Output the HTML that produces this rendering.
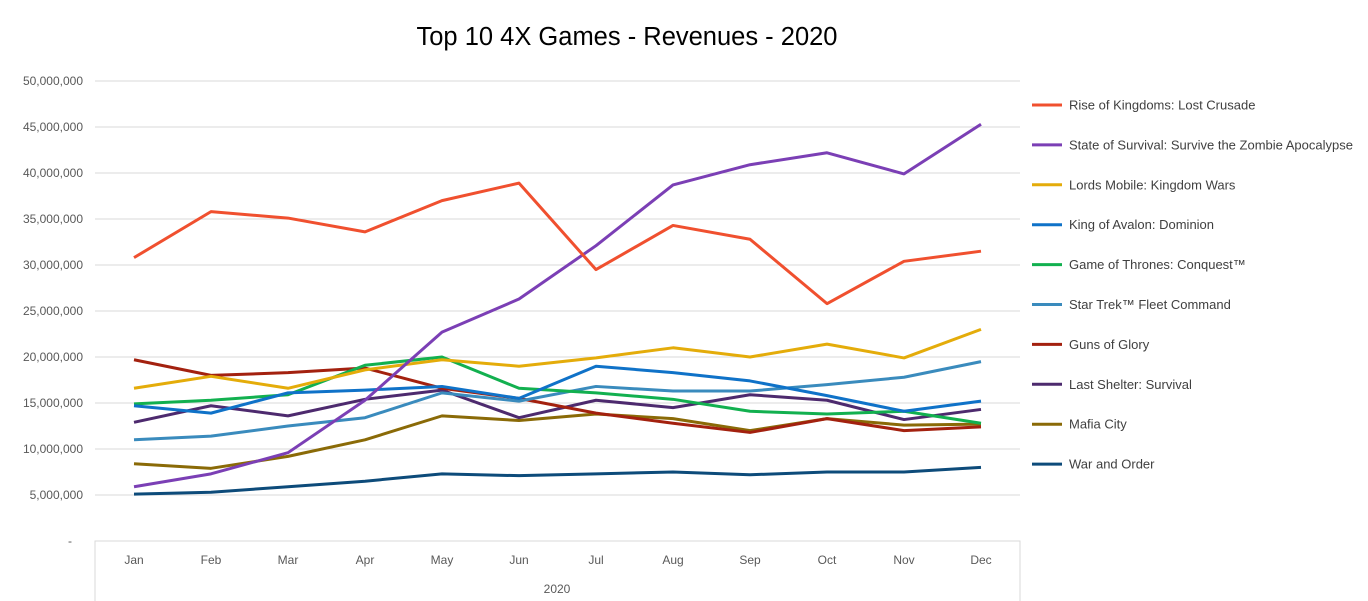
<!DOCTYPE html>
<html><head><meta charset="utf-8"><style>
body{margin:0;background:#fff;}
svg{display:block;font-family:"Liberation Sans","DejaVu Sans",sans-serif;}
</style></head><body>
<svg id="chart" width="1368" height="601">
<text x="627" y="45" text-anchor="middle" font-size="25.5" fill="#000">Top 10 4X Games - Revenues - 2020</text>
<g id="grid"></g><g id="yticks"></g><g id="xticks"></g><g id="series"></g><g id="legend"></g>
</svg>
<script>
const months=["Jan","Feb","Mar","Apr","May","Jun","Jul","Aug","Sep","Oct","Nov","Dec"];
const yTicks=[0,5,10,15,20,25,30,35,40,45,50];
const yTickLabels=["-","5,000,000","10,000,000","15,000,000","20,000,000","25,000,000","30,000,000","35,000,000","40,000,000","45,000,000","50,000,000"];
const names=["Rise of Kingdoms: Lost Crusade","State of Survival: Survive the Zombie Apocalypse","Lords Mobile: Kingdom Wars","King of Avalon: Dominion","Game of Thrones: Conquest™","Star Trek™ Fleet Command","Guns of Glory","Last Shelter: Survival","Mafia City","War and Order"];
const colors=["#f0502f","#7b3fb5","#e4ac0a","#0f72c8","#12b04f","#3a8bbd","#a3210f","#4d2a6e","#8a6a07","#0d4b7a"];
const rise=[30.8,35.8,35.1,33.6,37.0,38.9,29.5,34.3,32.8,25.8,30.4,31.5];
const state=[5.9,7.3,9.6,15.3,22.7,26.3,32.1,38.7,40.9,42.2,39.9,45.3];
const lords=[16.6,17.9,16.6,18.6,19.7,19.0,19.9,21.0,20.0,21.4,19.9,23.0];
const avalon=[14.7,13.9,16.1,16.4,16.8,15.5,19.0,18.3,17.4,15.8,14.1,15.2];
const got=[14.9,15.3,15.9,19.1,20.0,16.6,16.1,15.4,14.1,13.8,14.1,12.8];
const startrek=[11.0,11.4,12.5,13.4,16.1,15.2,16.8,16.3,16.3,17.0,17.8,19.5];
const guns=[19.7,18.0,18.3,18.8,16.6,15.5,13.9,12.8,11.8,13.3,12.0,12.4];
const shelter=[12.9,14.7,13.6,15.4,16.4,13.4,15.3,14.5,15.9,15.3,13.2,14.3];
const mafia=[8.4,7.9,9.2,11.0,13.6,13.1,13.8,13.3,12.0,13.3,12.6,12.7];
const war=[5.1,5.3,5.9,6.5,7.3,7.1,7.3,7.5,7.2,7.5,7.5,8.0];
const allSeries=[rise,state,lords,avalon,got,startrek,guns,shelter,mafia,war];
const NS="http://www.w3.org/2000/svg";
const x=i=>134+i*77;
const y=v=>541-v*9.2;
function mk(tag,attrs,parent){const e=document.createElementNS(NS,tag);for(const k in attrs)e.setAttribute(k,attrs[k]);parent.appendChild(e);return e;}
const grid=document.getElementById('grid'),yt=document.getElementById('yticks'),xt=document.getElementById('xticks'),sg=document.getElementById('series'),lg=document.getElementById('legend');
yTicks.forEach((t,i)=>{
  if(t>0){const l=mk('line',{x1:95,x2:1020,y1:y(t),y2:y(t),stroke:'#d9d9d9','stroke-width':1},grid);
  
  }
  const tx=mk('text',{x:t===0?72:83,y:y(t)+4,'text-anchor':'end','font-size':12,fill:'#595959'},yt);
  tx.textContent=yTickLabels[i];
  
  
});
const ax=mk('path',{d:'M95,601 V541 H1020 V601',fill:'none',stroke:'#d9d9d9','stroke-width':1},grid);


months.forEach((m,i)=>{
  const tx=mk('text',{x:x(i),y:564,'text-anchor':'middle','font-size':12,fill:'#595959'},xt);
  tx.textContent=m;
  
  
});
const yr=mk('text',{x:557,y:593,'text-anchor':'middle','font-size':12,fill:'#595959'},xt);
yr.textContent='2020';


allSeries.slice().reverse().forEach((s,ri)=>{
  const k=allSeries.length-1-ri;
  const p=mk('polyline',{points:s.map((v,i)=>x(i)+','+y(v)).join(' '),fill:'none',stroke:colors[k],'stroke-width':3,'stroke-linejoin':'round'},sg);
  
  
});
names.forEach((n,i)=>{
  const ly=105+i*39.9;
  const g=mk('g',{},lg);
  
  
  mk('line',{x1:1032,x2:1062,y1:ly,y2:ly,stroke:colors[i],'stroke-width':3},g);
  const t=mk('text',{x:1069,y:ly+4.5,'font-size':13,fill:'#404040'},g);
  t.textContent=n;
});
</script>
</body></html>
